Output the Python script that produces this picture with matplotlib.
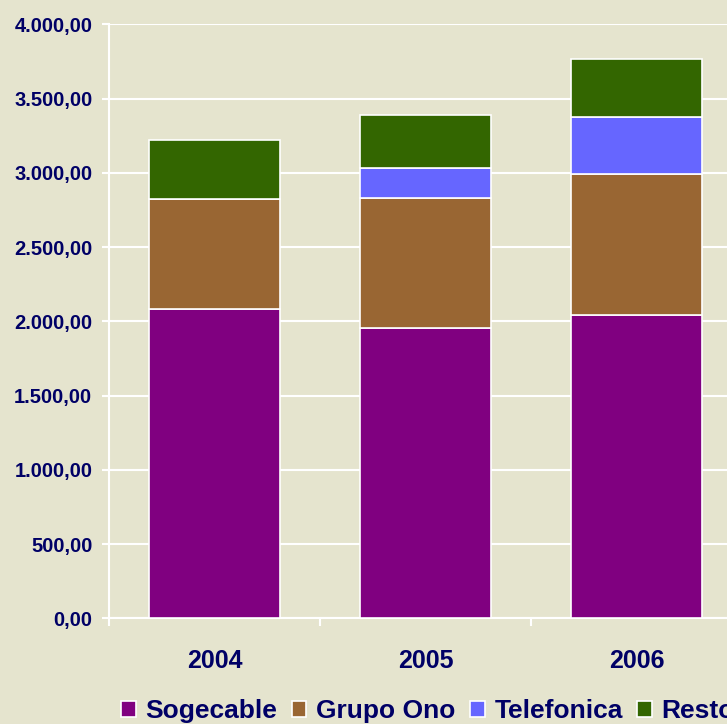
import matplotlib.pyplot as plt
from matplotlib.ticker import FuncFormatter, FixedLocator
from matplotlib.patches import Patch

years = ["2004", "2005", "2006"]
sogecable = [2084, 1955, 2040]
grupo_ono = [738, 877, 950]
telefonica = [0, 200, 386]
resto = [399, 355, 388]

series = [("Sogecable", sogecable, "#800080"),
          ("Grupo Ono", grupo_ono, "#996633"),
          ("Telefonica", telefonica, "#6666FF"),
          ("Resto", resto, "#336600")]

bg = "#E5E4CE"
txt = "#000066"
plt.rcParams['font.family'] = ['Liberation Sans', 'DejaVu Sans']

fig = plt.figure(figsize=(7.27, 7.24), dpi=100, facecolor=bg)
ax = fig.add_axes([109 / 727, 1 - 618.3 / 724, 633 / 727, 594 / 724])
ax.set_facecolor(bg)

x = list(range(len(years)))
bottom = [0] * len(years)
for name, vals, col in series:
    ax.bar(x, vals, width=0.625, bottom=bottom, color=col,
           edgecolor="white", linewidth=1.2, zorder=3)
    bottom = [b + v for b, v in zip(bottom, vals)]

ax.set_xlim(-0.5, 2.5)
ax.set_ylim(0, 4000)
ax.set_yticks(range(0, 4001, 500))
ax.yaxis.set_major_formatter(FuncFormatter(
    lambda v, p: f"{v:,.2f}".replace(",", "X").replace(".", ",").replace("X", ".")))
ax.grid(axis="y", color="white", linewidth=1.5, zorder=1)

ax.set_xticks(x)
ax.set_xticklabels(years)
ax.xaxis.set_minor_locator(FixedLocator([-0.5, 0.5, 1.5, 2.5]))
ax.tick_params(axis="x", which="major", length=0, pad=22, labelsize=18,
               labelcolor=txt)
ax.tick_params(axis="x", which="minor", length=6, width=1.5, color="white")
ax.tick_params(axis="y", length=5, width=1.5, color="white", pad=7,
               labelsize=14.5, labelcolor=txt)
for lbl in ax.get_xticklabels() + ax.get_yticklabels():
    lbl.set_fontweight("bold")

for s in ["top", "right"]:
    ax.spines[s].set_visible(False)
for s in ["left", "bottom"]:
    ax.spines[s].set_color("white")
    ax.spines[s].set_linewidth(1.5)

handles = [Patch(facecolor=c, edgecolor="white", linewidth=1.2) for _, _, c in series]
labels = [n for n, _, _ in series]
fig.legend(handles, labels, loc="center left", bbox_to_anchor=(0.134, 0.018),
           ncol=4, frameon=False, handlelength=0.55,
           handleheight=0.55, handletextpad=0.37, columnspacing=0.55,
           prop={"weight": "bold", "size": 19})
for t in fig.legends[0].get_texts():
    t.set_color(txt)

fig.savefig("out.png", dpi=100, facecolor=bg)
